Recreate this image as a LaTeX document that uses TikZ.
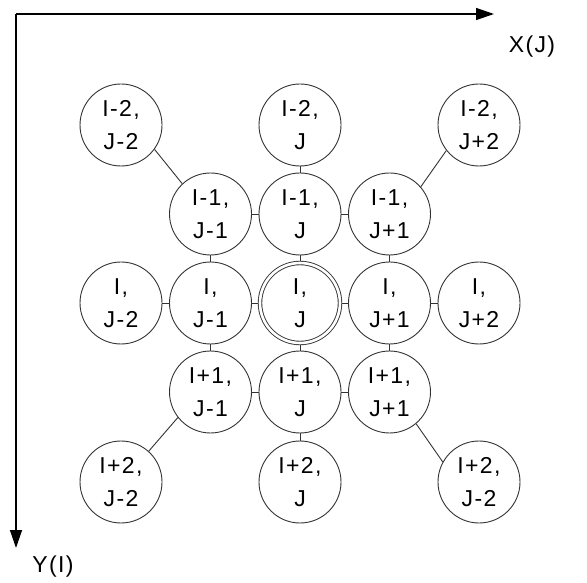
\documentclass[tikz,border=0pt]{standalone}
\usepackage{fontspec}
\setmainfont{Liberation Sans}[LetterSpace=6]
\usepackage{tikz}
\usetikzlibrary{arrows.meta}
\definecolor{GridLine}{HTML}{333333}
\tikzset{
  cell/.style={circle,draw=GridLine,line width=0.9pt,minimum size=82pt,inner sep=0pt,
    align=center,font=\fontsize{23}{33}\selectfont},
  centre/.style={cell,minimum size=80pt,double,double distance=2.6pt,outer sep=2.2pt},
  link/.style={draw=GridLine,line width=0.9pt},
  axis/.style={line width=1.4pt,-{Triangle[length=18pt,width=12pt]}},
  axislabel/.style={font=\fontsize{23}{33}\selectfont}
}

\begin{document}
\begin{tikzpicture}[x=1pt,y=1pt]
\path[use as bounding box] (0,0) rectangle (587,582);
% axes
\coordinate (origin) at (16,568);
\coordinate (xend) at (494,568);
\coordinate (yend) at (16,34);
\draw[axis] (origin) -- (xend);
\draw[axis] (origin) -- (yend);
\node[axislabel] (xlab) at (532,535) {X(J)};
\node[axislabel] (ylab) at (53,15) {Y(I)};
% row I-2
\node[cell] (n11) at (121,457) {I-2,\\J-2};
\node[cell] (n13) at (300,457) {I-2,\\J};
\node[cell] (n15) at (479,457) {I-2,\\J+2};
% row I-1
\node[cell] (n22) at (210.5,368) {I-1,\\J-1};
\node[cell] (n23) at (300,368) {I-1,\\J};
\node[cell] (n24) at (389.5,368) {I-1,\\J+1};
% row I
\node[cell] (n31) at (121,279) {I,\\J-2};
\node[cell] (n32) at (210.5,279) {I,\\J-1};
\node[centre] (n33) at (300,279) {I,\\J};
\node[cell] (n34) at (389.5,279) {I,\\J+1};
\node[cell] (n35) at (479,279) {I,\\J+2};
% row I+1
\node[cell] (n42) at (210.5,190) {I+1,\\J-1};
\node[cell] (n43) at (300,190) {I+1,\\J};
\node[cell] (n44) at (389.5,190) {I+1,\\J+1};
% row I+2
\node[cell] (n51) at (121,100) {I+2,\\J-2};
\node[cell] (n53) at (300,100) {I+2,\\J};
\node[cell] (n55) at (479,100) {I+2,\\J-2};
% horizontal links
\draw[link] (n22) -- (n23) (n23) -- (n24);
\draw[link] (n31) -- (n32) (n32) -- (n33) (n33) -- (n34) (n34) -- (n35);
\draw[link] (n42) -- (n43) (n43) -- (n44);
% vertical links
\draw[link] (n22) -- (n32) (n32) -- (n42);
\draw[link] (n13) -- (n23) (n23) -- (n33) (n33) -- (n43) (n43) -- (n53);
\draw[link] (n24) -- (n34) (n34) -- (n44);
% corner links
\draw[link] (n11.-36) -- (n22.133);
\draw[link] (n15.-142) -- (n24.41);
\draw[link] (n51.48) -- (n42.-142);
\draw[link] (n55.151) -- (n44.-50);
\end{tikzpicture}
\end{document}
